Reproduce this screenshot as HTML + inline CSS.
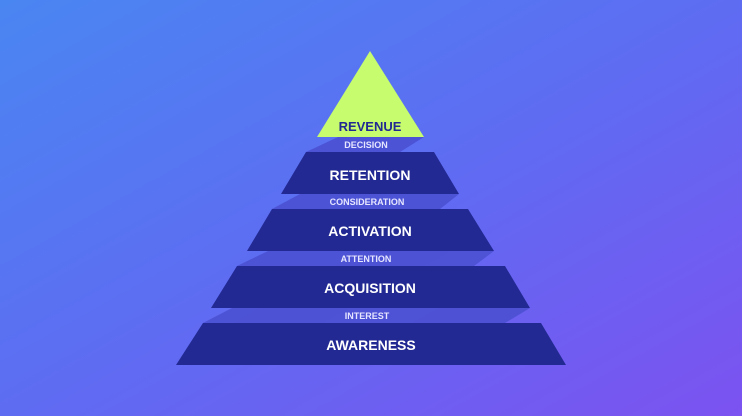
<!DOCTYPE html>
<html><head><meta charset="utf-8"><style>
html,body{margin:0;padding:0;width:742px;height:416px;overflow:hidden}
body{background:linear-gradient(160deg,#4a84f2 0%,#5c6ef2 45%,#7a55f0 100%)}
svg{display:block}
text{font-family:"Liberation Sans",sans-serif;font-weight:bold;text-anchor:middle}
</style></head><body>
<svg width="742" height="416" viewBox="0 0 742 416">
<defs><linearGradient id="bg" x1="0" y1="0" x2="1" y2="1">
<stop offset="0" stop-color="#4a86f2"/><stop offset="0.5" stop-color="#5e6cf2"/><stop offset="1" stop-color="#7c52f0"/></linearGradient></defs>
<rect width="742" height="416" fill="url(#bg)"/>
<g fill="#4a4fd0" opacity="0.85">
<polygon points="338,137 424,137 400,152 306,152"/>
<polygon points="300,194 459,194 440,209 272,209"/>
<polygon points="268,251 494,251 474,266 237,266"/>
<polygon points="232,308 530,308 505,323 203,323"/>
</g>
<polygon points="370,51 317,137 424,137" fill="#c6fc6e"/>
<g fill="#222992">
<polygon points="306,152 434,152 459,194 281,194"/>
<polygon points="272,209 468,209 494,251 247,251"/>
<polygon points="237,266 505,266 530,308 211,308"/>
<polygon points="203,323 541,323 566,365 176,365"/>
</g>
<text x="370" y="131" font-size="13" fill="#222992">REVENUE</text>
<g fill="#e6e6ff" font-size="9">
<text x="366" y="148">DECISION</text>
<text x="367" y="205">CONSIDERATION</text>
<text x="366" y="262">ATTENTION</text>
<text x="367" y="319">INTEREST</text>
</g>
<g fill="#ffffff" font-size="14">
<text x="370" y="180">RETENTION</text>
<text x="370" y="236">ACTIVATION</text>
<text x="370" y="293">ACQUISITION</text>
<text x="371" y="350">AWARENESS</text>
</g>
</svg>
</body></html>
